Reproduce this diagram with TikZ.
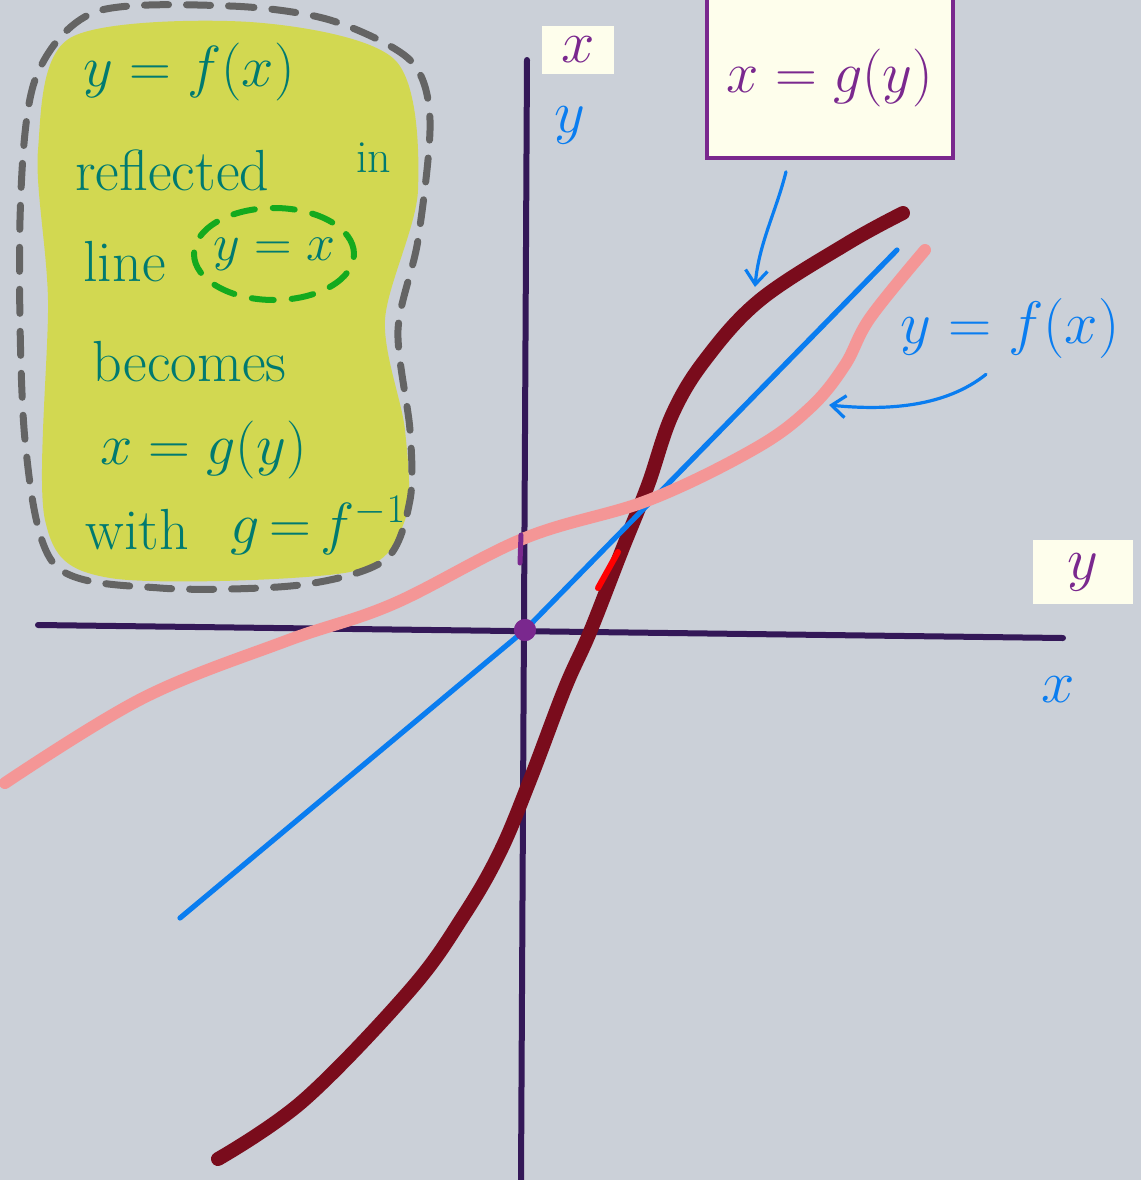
\RequirePackage{fix-cm}
\documentclass[tikz,border=0pt]{standalone}
\usepackage{fontspec}
\usetikzlibrary{arrows.meta,positioning}

\definecolor{board}{RGB}{203,208,216}
\definecolor{axisc}{RGB}{52,24,88}
\definecolor{mirrorc}{RGB}{10,125,240}
\definecolor{fcurve}{RGB}{244,150,150}
\definecolor{gcurve}{RGB}{122,12,28}
\definecolor{hilite}{RGB}{212,218,58}
\definecolor{notec}{RGB}{0,122,112}
\definecolor{framec}{RGB}{100,100,100}
\definecolor{ringc}{RGB}{20,170,30}
\definecolor{boxc}{RGB}{122,40,142}
\definecolor{cream}{RGB}{254,254,236}

\tikzset{
  axis/.style={line width=3pt, axisc, line cap=round},
  note/.style={text=notec, inner sep=0pt, font=\fontsize{29}{34}\selectfont},
  pointer/.style={line width=1.6pt, mirrorc, line cap=round,
    -{Straight Barb[length=7pt, width=11pt]}},
  axislabel/.style={inner sep=1pt, font=\fontsize{30}{34}\selectfont}
}

\begin{document}
\begin{tikzpicture}[x=0.5pt, y=-0.5pt]
  \useasboundingbox (0,0) rectangle (1141,1180);
  \fill[board] (0,0) rectangle (1141,1180);

  % highlighted note, top left
  \fill[hilite, opacity=0.85] plot[smooth cycle] coordinates {(70,38) (250,22) (395,60) (418,190)
    (385,320) (405,430) (405,520) (350,572) (110,578) (45,520) (48,300) (38,150)};
  \draw[framec, line width=3.5pt, dash pattern=on 12pt off 9pt, line cap=round]
    plot[smooth cycle] coordinates {(95,12) (230,6) (330,20) (410,60) (430,120) (418,240)
      (398,330) (410,430) (410,500) (385,560) (300,585) (160,588) (55,565) (25,440)
      (20,220) (35,80)};

  \node[note, anchor=west] (line1) at (83,72) {$y=f(x)$};
  \node[note, anchor=west] (line2) at (75,170) {reflected};
  \node[note, font=\fontsize{23}{26}\selectfont] (line2in) at (374,158) {in};
  \node[note, anchor=west] (line3) at (83,262) {line};
  \node[note, font=\fontsize{26}{30}\selectfont] (line3eq) at (274,254) {$y=x$};
  \draw[ringc, line width=3pt, dash pattern=on 11pt off 9pt, line cap=round]
    (line3eq) ellipse [x radius=40pt, y radius=23pt];
  \node[note, anchor=west] (line4) at (92,362) {becomes};
  \node[note, anchor=west] (line5) at (100,450) {$x=g(y)$};
  \node[note, anchor=west] (line6) at (85,530) {with};
  \node[note, anchor=west] (line6eq) at (230,526) {$g{\,=\,}f^{-1}$};

  % axes
  \coordinate (ytop) at (527,60);
  \coordinate (ybot) at (521,1180);
  \coordinate (xleft) at (38,625);
  \coordinate (xright) at (1063,638);
  \draw[axis] (ybot) -- (ytop);
  \draw[axis] (xleft) -- (xright);

  % curve x = g(y)
  \draw[gcurve, line width=7pt, line cap=round, line join=round]
    plot[smooth, tension=0.6] coordinates {(218,1159) (304,1100) (411,989) (464,915)
      (500,852) (530,780) (565,688) (590,632) (622,550) (648,485) (672,415) (705,360)
      (760,300) (848,243) (903,213)};
  \draw[red, line width=3pt, line cap=round] (598,588) -- (618,552);

  % mirror line y = x
  \coordinate (mirrorA) at (180,918);
  \coordinate (mirrorB) at (897,250);
  \node[circle, fill=boxc, inner sep=0pt, minimum size=11pt] (origin) at (525,630) {};
  \draw[mirrorc, line width=2.6pt, line cap=round, line join=round]
    (mirrorA) -- (origin.center) -- (mirrorB);

  % curve y = f(x)
  \draw[fcurve, line width=6pt, line cap=round, line join=round]
    plot[smooth, tension=0.6] coordinates {(5,783) (143,698) (286,641) (393,604) (525,538)
      (649,500) (756,448) (811,407) (845,365) (870,318) (925,250)};
  \draw[boxc, line width=2.5pt, line cap=round] (521,535) -- (520,563);
  \fill[boxc] (origin) circle (5.5pt);

  % axis labels
  \node[axislabel, fill=cream, text=boxc, minimum width=36pt, minimum height=24pt] (topx) at (578,50) {$x$};
  \node[axislabel, text=mirrorc] (topy) at (570,125) {$y$};
  \node[axislabel, fill=cream, text=boxc, minimum width=50pt, minimum height=32pt] (righty) at (1083,572) {$y$};
  \node[axislabel, text=mirrorc] (rightx) at (1058,690) {$x$};

  % label box for x = g(y)
  \node[draw=boxc, line width=1.8pt, fill=cream, text=boxc, minimum width=123pt,
    minimum height=80pt, font=\fontsize{29}{34}\selectfont] (gbox) at (830,78) {$x=g(y)$};
  \coordinate (gtip) at (755,287);
  \draw[pointer] ([xshift=-22pt, yshift=-6pt]gbox.south)
    .. controls +(-5pt,-20pt) and +(2pt,22pt) .. (gtip);

  % label for y = f(x)
  \node[axislabel, text=mirrorc, font=\fontsize{30}{34}\selectfont] (fx) at (1010,328) {$y=f(x)$};
  \coordinate (ftip) at (829,405);
  \draw[pointer] ([xshift=-12pt, yshift=-7pt]fx.south)
    .. controls +(-20pt,-16pt) and +(30pt,-3pt) .. (ftip);
\end{tikzpicture}
\end{document}
